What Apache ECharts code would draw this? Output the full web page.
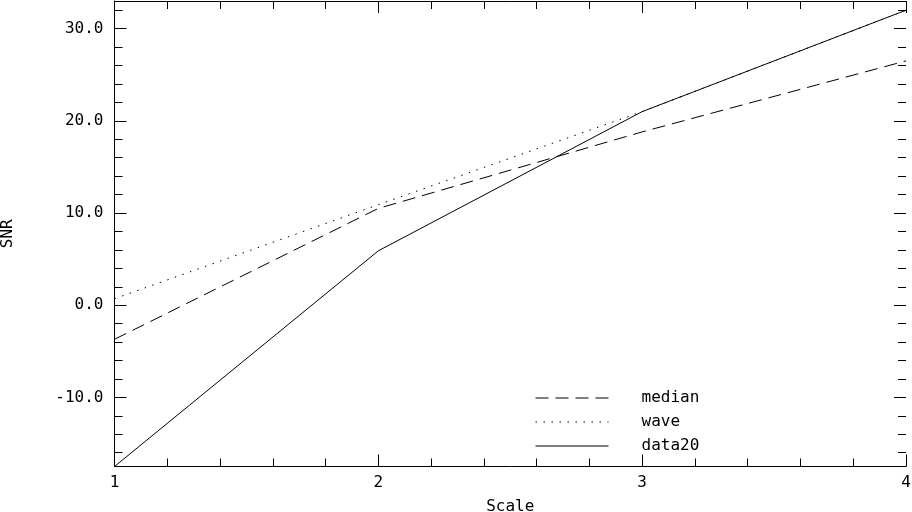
<!DOCTYPE html>
<html>
<head>
<meta charset="utf-8">
<script src="https://cdn.jsdelivr.net/npm/echarts@6/dist/echarts.min.js"></script>
<style>
  html, body { margin: 0; padding: 0; background: #fff; }
  #chart { width: 912px; height: 512px; }
</style>
</head>
<body>
<div id="chart"></div>
<script>
// values
var scales = [1, 2, 3, 4];
var median = [-3.7, 10.5, 18.8, 26.5];
var wave = [0.7, 10.9, 21.0, 32.0];
var data20 = [-17.5, 5.9, 21.0, 32.0];

var yMajor = [-10, 0, 10, 20, 30];
var yMinor = [-16, -14, -12, -8, -6, -4, -2, 2, 4, 6, 8, 12, 14, 16, 18, 22, 24, 26, 28, 32];

var font = 'DejaVu Sans Mono';

var pairs = (ys) => scales.map((s, i) => [s, ys[i]]);

var myChart = echarts.init(document.getElementById('chart'));

var lineSeries = (name, ys, type) => ({
	name: name,
	type: 'line',
	data: pairs(ys),
	symbol: 'none',
	silent: true,
	animation: false,
	lineStyle: { color: '#000', width: 1, type: type },
	itemStyle: { color: '#000' }
});

var xBase = (pos) => ({
	type: 'value',
	position: pos,
	min: 1,
	max: 4,
	interval: 1,
	axisLine: { show: true, onZero: false, lineStyle: { color: '#000', width: 1 } },
	axisTick: { show: true, inside: true, length: 12, lineStyle: { color: '#000' } },
	minorTick: { show: true, splitNumber: 5, length: 8, lineStyle: { color: '#000' } },
	splitLine: { show: false },
	axisLabel: { show: false }
});

var yBase = (pos, values, len, showLine) => ({
	type: 'value',
	position: pos,
	min: -17.5,
	max: 33.0,
	axisLine: { show: showLine, onZero: false, lineStyle: { color: '#000', width: 1 } },
	axisTick: { show: true, inside: true, length: len, customValues: values, lineStyle: { color: '#000' } },
	splitLine: { show: false },
	axisLabel: { show: false }
});

var bottomAxis = xBase('bottom');
bottomAxis.axisLabel = {
	show: true, color: '#000', fontFamily: font, fontSize: 16, margin: 8,
	formatter: (v) => String(v)
};
bottomAxis.name = 'Scale';
bottomAxis.nameLocation = 'middle';
bottomAxis.nameGap = 32;
bottomAxis.nameTextStyle = { color: '#000', fontFamily: font, fontSize: 16 };

var leftMajor = yBase('left', yMajor, 12, true);
leftMajor.axisLabel = {
	show: true, color: '#000', fontFamily: font, fontSize: 16, margin: 11,
	customValues: yMajor,
	formatter: (v) => v.toFixed(1)
};
leftMajor.name = 'SNR';
leftMajor.nameLocation = 'middle';
leftMajor.nameGap = 99;
leftMajor.nameRotate = 90;
leftMajor.nameTextStyle = { color: '#000', fontFamily: font, fontSize: 16 };

option = {
	backgroundColor: '#fff',
	animation: false,
	grid: { left: 114.5, right: 6, top: 1, bottom: 45.5, containLabel: false, outerBoundsMode: 'none' },
	xAxis: [bottomAxis, xBase('top')],
	yAxis: [
		leftMajor,
		yBase('left', yMinor, 8, false),
		yBase('right', yMajor, 12, false),
		yBase('right', yMinor, 8, false)
	],
	legend: {
		show: true,
		orient: 'vertical',
		left: 530,
		top: 385,
		itemWidth: 73,
		itemHeight: 14,
		itemGap: 8,
		selectedMode: false,
		lineStyle: { width: 1 },
		itemStyle: { color: 'transparent', borderColor: 'transparent', borderWidth: 0, opacity: 0 },
		textStyle: { color: '#000', fontFamily: font, fontSize: 16, padding: [0, 0, 0, 28] },
		data: ['median', 'wave', 'data20']
	},
	series: [
		lineSeries('median', median, [13, 7]),
		lineSeries('wave', wave, [1.5, 6.5]),
		lineSeries('data20', data20, 'solid')
	]
};

option && myChart.setOption(option, true);
</script>
</body>
</html>
